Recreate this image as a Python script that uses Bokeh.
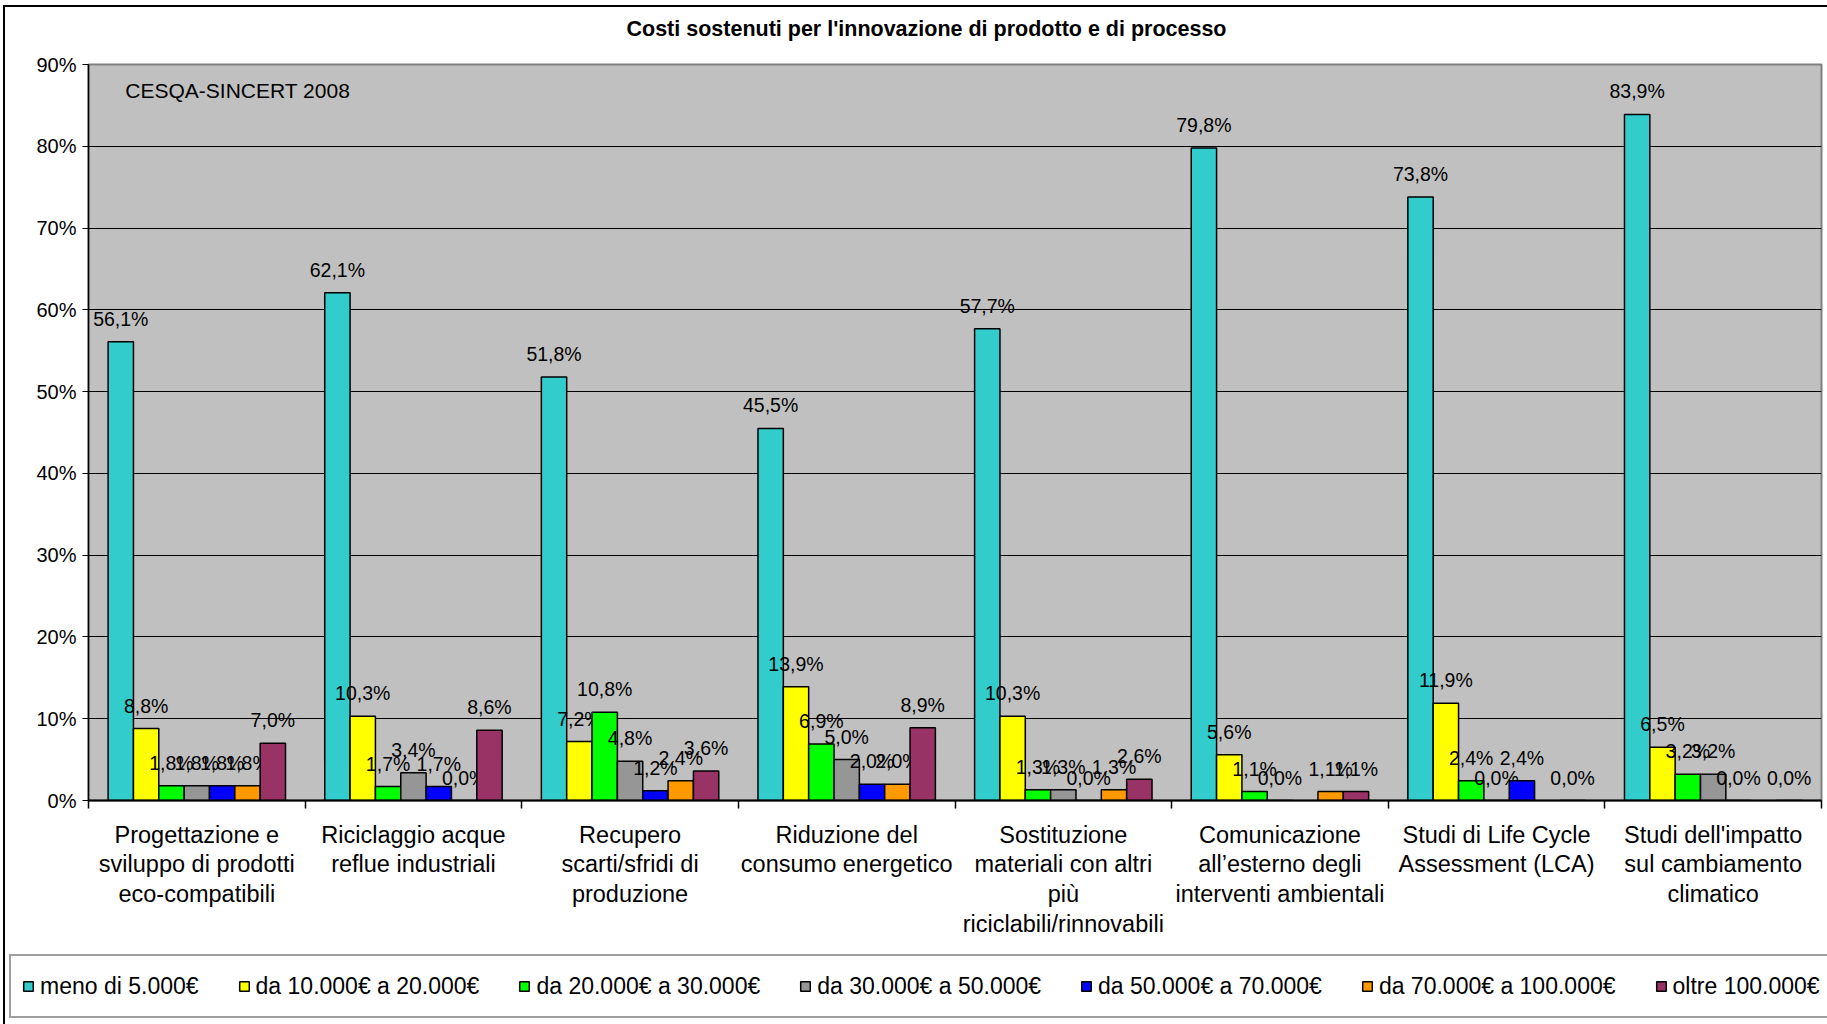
import numpy as np
from bokeh.plotting import figure
from bokeh.layouts import column
from bokeh.models import (Range1d, FixedTicker, CustomJSTickFormatter, PrintfTickFormatter,
                          ColumnDataSource, Legend, LegendItem, Label)
from bokeh.core.properties import value
from bokeh.embed import file_html
from bokeh.resources import INLINE

# ---------------- data ----------------
categories = [
    "Progettazione e\nsviluppo di prodotti\neco-compatibili",
    "Riciclaggio acque\nreflue industriali",
    "Recupero\nscarti/sfridi di\nproduzione",
    "Riduzione del\nconsumo energetico",
    "Sostituzione\nmateriali con altri\npiù\nriciclabili/rinnovabili",
    "Comunicazione\nall\u2019esterno degli\ninterventi ambientali",
    "Studi di Life Cycle\nAssessment (LCA)",
    "Studi dell'impatto\nsul cambiamento\nclimatico",
]

series_names = [
    "meno di 5.000€",
    "da 10.000€ a 20.000€",
    "da 20.000€ a 30.000€",
    "da 30.000€ a 50.000€",
    "da 50.000€ a 70.000€",
    "da 70.000€ a 100.000€",
    "oltre 100.000€",
]

meno_5000 = [56.1, 62.1, 51.8, 45.5, 57.7, 79.8, 73.8, 83.9]
da_10_20 = [8.8, 10.3, 7.2, 13.9, 10.3, 5.6, 11.9, 6.5]
da_20_30 = [1.8, 1.7, 10.8, 6.9, 1.3, 1.1, 2.4, 3.2]
da_30_50 = [1.8, 3.4, 4.8, 5.0, 1.3, 0.0, 0.0, 3.2]
da_50_70 = [1.8, 1.7, 1.2, 2.0, 0.0, None, 2.4, 0.0]
da_70_100 = [1.8, 0.0, 2.4, 2.0, 1.3, 1.1, None, None]
oltre_100 = [7.0, 8.6, 3.6, 8.9, 2.6, 1.1, 0.0, 0.0]

series_values = [meno_5000, da_10_20, da_20_30, da_30_50, da_50_70, da_70_100, oltre_100]
colors = ["#33CCCC", "#FFFF00", "#00FF00", "#969696", "#0000FF", "#FF9900", "#993366"]

y_ticks = list(range(0, 100, 10))

title_text = "Costi sostenuti per l'innovazione di prodotto e di processo"
source_note = "CESQA-SINCERT 2008"

FONT = "Liberation Sans"
W = 1822
FRAME_L, FRAME_R = 83, 6
FRAME_W = W - FRAME_L - FRAME_R

# ---------------- title strip (frame is aligned with the chart frame) ----------------
TH = 45
pt = figure(width=W, height=TH, output_backend="svg", toolbar_location=None,
            x_range=Range1d(0, FRAME_W), y_range=Range1d(0, TH), min_border=0,
            min_border_left=FRAME_L, min_border_right=FRAME_R,
            x_axis_type=None, y_axis_type=None)
pt.outline_line_color = None
pt.background_fill_color = "white"
pt.border_fill_color = "white"
pt.xgrid.grid_line_color = None
pt.ygrid.grid_line_color = None
pt.add_layout(Label(x=921 - FRAME_L, y=24, text=title_text, text_align="center",
                    text_baseline="middle", text_font=FONT, text_font_size="21.5px",
                    text_font_style="bold", text_color="black"))

# ---------------- main chart ----------------
MH = 898
p = figure(width=W, height=MH, output_backend="svg", toolbar_location=None,
           x_range=Range1d(0, len(categories)), y_range=Range1d(0, 90),
           min_border_left=FRAME_L, min_border_right=FRAME_R, min_border_top=12,
           min_border_bottom=150)
p.background_fill_color = "#C0C0C0"
p.border_fill_color = "white"
p.outline_line_color = "#808080"
p.outline_line_width = 2

p.xgrid.grid_line_color = None
p.ygrid.grid_line_color = "black"
p.ygrid.grid_line_width = 1
p.ygrid.ticker = FixedTicker(ticks=y_ticks)

ya = p.yaxis[0]
ya.ticker = FixedTicker(ticks=y_ticks)
ya.formatter = PrintfTickFormatter(format="%d%%")
ya.major_label_text_font = FONT
ya.major_label_text_font_size = "20px"
ya.major_label_text_color = "black"
ya.axis_line_color = "black"
ya.axis_line_width = 1.5
ya.major_tick_out = 6
ya.major_tick_in = 0
ya.minor_tick_line_color = None
ya.major_label_standoff = 6

n = len(categories)
xa = p.xaxis[0]
xa.ticker = FixedTicker(ticks=[i + 0.5 for i in range(n)], minor_ticks=list(range(n + 1)))
xa.formatter = CustomJSTickFormatter(args=dict(labels=categories),
                                     code="return labels[Math.floor(tick)]")
xa.major_tick_out = 0
xa.major_tick_in = 0
xa.minor_tick_out = 8
xa.minor_tick_in = 0
xa.minor_tick_line_color = "black"
xa.minor_tick_line_width = 1.5
xa.axis_line_color = "black"
xa.axis_line_width = 2
xa.major_label_text_font = FONT
xa.major_label_text_font_size = "23.5px"
xa.major_label_text_color = "black"
xa.major_label_text_line_height = 1.15
xa.major_label_standoff = 13

bw = 0.117
for j, (vals, col) in enumerate(zip(series_values, colors)):
    xs, tops, labels = [], [], []
    for i, v in enumerate(vals):
        if v is None:
            continue
        xs.append(i + 0.5 + (j - 3) * bw)
        tops.append(v)
        labels.append(f"{v:.1f}".replace(".", ",") + "%")
    src = ColumnDataSource(dict(x=xs, top=tops, lab=labels))
    p.vbar(x="x", top="top", bottom=0, width=bw, source=src, fill_color=col,
           line_color="black", line_width=1.5)
    p.text(x="x", y="top", text="lab", source=src, text_align="center",
           text_baseline="bottom", y_offset=-12, text_font=value(FONT),
           text_font_size="19.5px", text_color="black")

p.add_layout(Label(x=0.17, y=86.8, text=source_note, text_baseline="middle", text_font=FONT,
                   text_font_size="21px", text_color="black"))

# ---------------- legend strip (separate root, full-width frame) ----------------
LH = 74
pl = figure(width=W, height=LH, output_backend="svg", toolbar_location=None,
            x_range=Range1d(0, 1), y_range=Range1d(0, 1), min_border=0,
            x_axis_type=None, y_axis_type=None)
pl.outline_line_color = None
pl.background_fill_color = "white"
pl.border_fill_color = "white"
pl.xgrid.grid_line_color = None
pl.ygrid.grid_line_color = None
items = []
for name, col in zip(series_names, colors):
    r = pl.vbar(x=[np.nan], top=[np.nan], bottom=0, width=0.1, fill_color=col,
                line_color="black", line_width=1.5)
    items.append(LegendItem(label=name, renderers=[r]))
legend = Legend(items=items, orientation="horizontal", location=(4, 6),
                label_text_font=FONT, label_text_font_size="23px", label_text_color="black",
                glyph_width=12, glyph_height=12, label_standoff=6, spacing=39,
                padding=11, label_height=38, margin=0,
                border_line_color="#404040", border_line_width=2,
                background_fill_color="white", background_fill_alpha=1.0)
pl.add_layout(legend)

top = column(pt, p, spacing=0)
top.styles = {"border-top": "2px solid #000000", "border-left": "2px solid #000000",
              "margin-left": "3px", "margin-top": "5px"}
pl.styles = {"border-left": "2px solid #000000", "margin-left": "3px"}

open("out.html", "w").write(file_html([top, pl], INLINE))
